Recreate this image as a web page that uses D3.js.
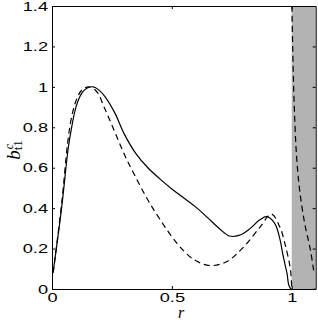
<!DOCTYPE html>
<html>
<head>
<meta charset="utf-8">
<script src="https://cdn.jsdelivr.net/npm/d3@7"></script>
<style>
body { margin: 0; background: #fff; }
svg { display: block; }
</style>
</head>
<body>
<script>
// solid curve
var solidR = [0.005, 0.04, 0.068, 0.082, 0.1, 0.125, 0.145, 0.172, 0.195, 0.221, 0.2625, 0.30, 0.35, 0.40, 0.45, 0.50, 0.55, 0.60, 0.65, 0.70, 0.74, 0.78, 0.82, 0.867, 0.895, 0.929, 0.95, 0.964, 0.98, 0.997, 1.1];
var solidV = [0.086, 0.40, 0.70, 0.80, 0.90, 0.97, 0.993, 1.0, 0.985, 0.952, 0.87, 0.77, 0.67, 0.60, 0.545, 0.495, 0.45, 0.405, 0.352, 0.297, 0.262, 0.265, 0.293, 0.342, 0.358, 0.325, 0.25, 0.165, 0.08, 0.0, 0.0];

// dashed curve, inside r < 1
var dashR = [0.005, 0.04, 0.065, 0.08, 0.1, 0.125, 0.155, 0.186, 0.221, 0.2625, 0.304, 0.346, 0.40, 0.45, 0.52, 0.589, 0.658, 0.728, 0.797, 0.867, 0.915, 0.95, 0.978, 0.995, 1.0];
var dashV = [0.08, 0.42, 0.72, 0.84, 0.93, 0.985, 1.0, 0.977, 0.89, 0.775, 0.66, 0.56, 0.44, 0.345, 0.228, 0.148, 0.116, 0.135, 0.205, 0.305, 0.371, 0.308, 0.193, 0.094, 0.0];

// dashed curve, outer branch r > 1
var outerR = [1.0, 1.004, 1.0095, 1.02, 1.033, 1.054, 1.078, 1.092];
var outerV = [1.45, 1.2, 0.94, 0.66, 0.49, 0.325, 0.193, 0.086];

var xTicks = [0, 0.5, 1];
var yTicks = [0, 0.2, 0.4, 0.6, 0.8, 1, 1.2, 1.4];
var shadeFrom = 1, shadeTo = 1.1;

var width = 318, height = 327;
var margin = {left: 52, right: 2.3, top: 6, bottom: 38};

var x = d3.scaleLinear().domain([0, 1.1]).range([margin.left, width - margin.right]);
var y = d3.scaleLinear().domain([0, 1.4]).range([height - margin.bottom, margin.top]);

var svg = d3.select("body").append("svg").attr("width", width).attr("height", height);

svg.append("defs").append("clipPath").attr("id", "clip")
	.append("rect")
	.attr("x", x(0)).attr("y", y(1.4))
	.attr("width", x(1.1) - x(0)).attr("height", y(0) - y(1.4));

// gray region
svg.append("rect")
	.attr("x", x(shadeFrom))
	.attr("y", y(1.4))
	.attr("width", x(shadeTo) - x(shadeFrom))
	.attr("height", y(0) - y(1.4))
	.attr("fill", "#b3b3b3");

var line = d3.line()
	.x(function(d){ return x(d[0]); })
	.y(function(d){ return y(d[1]); })
	.curve(d3.curveCatmullRom.alpha(0.5));

var plot = svg.append("g").attr("clip-path", "url(#clip)");

plot.append("path")
	.attr("d", line(d3.zip(solidR, solidV)))
	.attr("fill", "none").attr("stroke", "#000").attr("stroke-width", 1.2);

plot.append("path")
	.attr("d", line(d3.zip(dashR, dashV)))
	.attr("fill", "none").attr("stroke", "#000").attr("stroke-width", 1.2)
	.attr("stroke-dasharray", "6,4");

plot.append("path")
	.attr("d", line(d3.zip(outerR, outerV)))
	.attr("fill", "none").attr("stroke", "#000").attr("stroke-width", 1.2)
	.attr("stroke-dasharray", "6,4");

var sx = 1.4; // labels look stretched sideways

var fmt = function(d){ return d3.format("")(+d.toFixed(1)); };

var gx = svg.append("g")
	.attr("transform", "translate(0," + y(0) + ")")
	.call(d3.axisBottom(x).tickValues(xTicks).tickFormat(fmt).tickSizeInner(-3).tickSizeOuter(0).tickPadding(3));

var gy = svg.append("g")
	.attr("transform", "translate(" + x(0) + ",0)")
	.call(d3.axisLeft(y).tickValues(yTicks).tickFormat(fmt).tickSizeInner(-3).tickSizeOuter(0).tickPadding(4));

svg.append("g")
	.attr("transform", "translate(0," + y(1.4) + ")")
	.call(d3.axisTop(x).tickValues(xTicks).tickFormat("").tickSizeInner(-3).tickSizeOuter(0));

svg.append("g")
	.attr("transform", "translate(" + x(1.1) + ",0)")
	.call(d3.axisRight(y).tickValues(yTicks).tickFormat("").tickSizeInner(-3).tickSizeOuter(0));

svg.selectAll(".tick text")
	.attr("font-family", "'Liberation Sans', Arial, sans-serif")
	.attr("font-size", 13)
	.attr("fill", "#000")
	.attr("transform", "scale(" + sx + ",1)");

gy.selectAll(".tick text").attr("x", -4 / sx);
gx.selectAll(".tick text").attr("dy", "0.8em");

svg.selectAll(".domain").attr("stroke", "#000");
svg.selectAll(".tick line").attr("stroke", "#000");

// x label
svg.append("text")
	.attr("x", 181).attr("y", 318)
	.attr("text-anchor", "middle")
	.attr("font-family", "'Liberation Serif', 'Times New Roman', serif")
	.attr("font-style", "italic")
	.attr("font-size", 16)
	.text("r");

// y label b_{t1}^c
var yl = svg.append("text")
	.attr("transform", "translate(20,150) rotate(-90)")
	.attr("text-anchor", "middle")
	.attr("font-family", "'Liberation Serif', 'Times New Roman', serif")
	.attr("font-size", 19);
yl.append("tspan").attr("font-style", "italic").text("b");
yl.append("tspan").attr("font-size", 13).attr("dy", 2).text("t1");
yl.append("tspan").attr("font-size", 12).attr("font-style", "italic").attr("dx", -9).attr("dy", -9).text("c");
</script>
</body>
</html>
